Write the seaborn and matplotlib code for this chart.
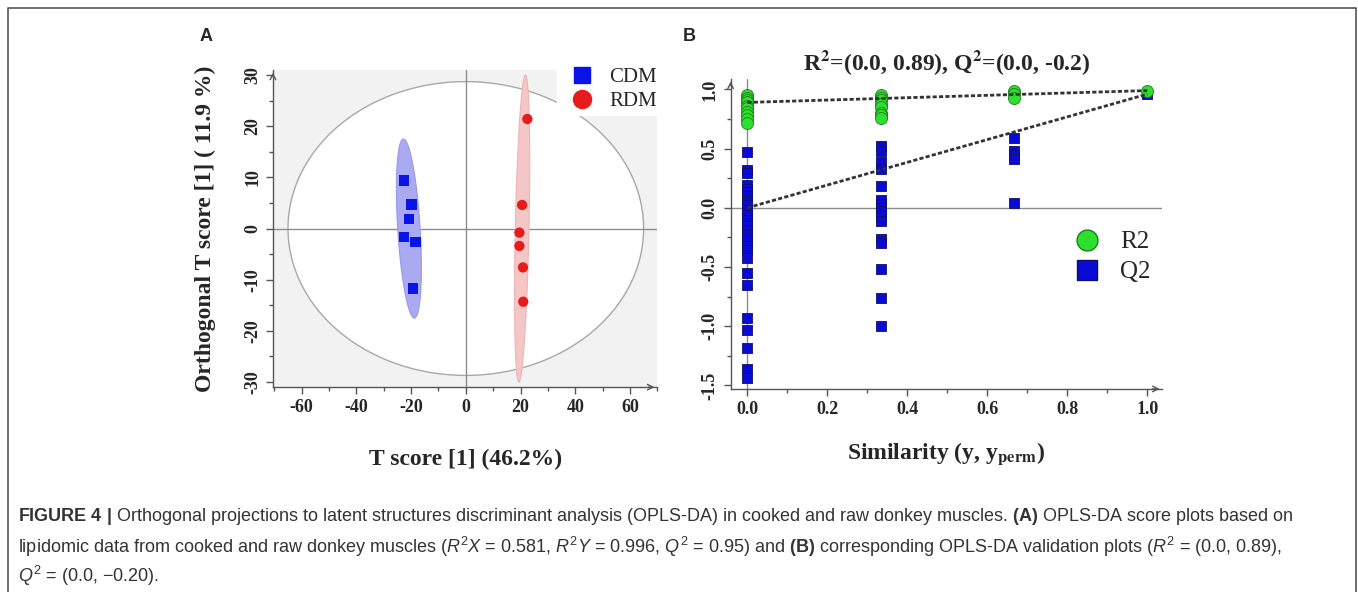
import numpy as np
import pandas as pd
import matplotlib
matplotlib.use("Agg")
import matplotlib.pyplot as plt
import seaborn as sns
from matplotlib.lines import Line2D

# ---- panel A data (score plot) ----
cdm_t = [-22.7, -19.9, -20.7, -22.7, -18.4, -19.4]
cdm_to = [9.4, 4.7, 1.8, -1.6, -2.7, -11.7]
rdm_t = [22.5, 20.6, 19.6, 19.6, 20.9, 21.0]
rdm_to = [21.4, 4.6, -0.8, -3.4, -7.6, -14.3]

# confidence ellipses: centre x, half width, half height, shear (dx/dy)
cdm_ell = (-20.8, 4.1, 17.5, -0.114)
rdm_ell = (20.6, 2.5, 30.0, 0.04)
t2_ell = (65.0, 28.7)

# ---- panel B data (permutation test) ----
r2_x0 = [0.95, 0.93, 0.91, 0.89, 0.86, 0.84, 0.81, 0.78, 0.75, 0.72]
q2_x0 = [0.47, 0.32, 0.29, 0.19, 0.16, 0.13, 0.10, 0.06, 0.02, -0.02, -0.06,
         -0.10, -0.15, -0.19, -0.23, -0.27, -0.32, -0.36, -0.42, -0.55, -0.65,
         -0.93, -1.03, -1.18, -1.36, -1.44]
r2_x1 = [0.95, 0.93, 0.91, 0.88, 0.85, 0.80, 0.78, 0.76]
q2_x1 = [0.52, 0.48, 0.39, 0.33, 0.18, 0.07, 0.03, 0.0, -0.03, -0.07, -0.11,
         -0.26, -0.30, -0.52, -0.76, -1.0]
r2_x2 = [0.99, 0.96, 0.93]
q2_x2 = [0.59, 0.48, 0.45, 0.41, 0.04]
r2_x3 = [0.99]
q2_x3 = [0.96]
sim_levels = [0.0, 1 / 3, 2 / 3, 1.0]
r2_line = (0.89, 0.99)   # intercept, value at similarity 1
q2_line = (0.0, 0.96)

sns.set_style("white")
plt.rcParams["font.family"] = ["Liberation Serif", "DejaVu Serif"]
plt.rcParams["axes.unicode_minus"] = False
# caption maths in sans, axis labels maths in stix
plt.rcParams["mathtext.fontset"] = "custom"
plt.rcParams["mathtext.rm"] = "Liberation Sans"
plt.rcParams["mathtext.it"] = "Liberation Sans:italic"
plt.rcParams["mathtext.bf"] = "Liberation Sans:bold"

fig = plt.figure(figsize=(13.58, 5.92), dpi=100)

# ---------------- panel A ----------------
axA = fig.add_axes([0.201, 0.346, 0.283, 0.536])
axA.set_facecolor("#f2f2f2")
tt = np.linspace(0, 2 * np.pi, 300)
axA.fill(t2_ell[0] * np.cos(tt), t2_ell[1] * np.sin(tt), facecolor="white",
         edgecolor="#a8a8a8", lw=1, zorder=1)
for (cx, w, h, k), fc, ec in [(cdm_ell, "#aaaaf2", "#9a9ae8"), (rdm_ell, "#f5c6c6", "#eeb4b4")]:
    yy = h * np.sin(tt)
    axA.fill(cx + w * np.cos(tt) + k * yy, yy, facecolor=fc, edgecolor=ec, lw=0.8, zorder=2)
axA.axhline(0, color="#8c8c8c", lw=1, zorder=1.5)
axA.axvline(0, color="#8c8c8c", lw=1, zorder=1.5)

dfA = pd.DataFrame({
    "t": cdm_t + rdm_t,
    "to": cdm_to + rdm_to,
    "group": ["CDM"] * len(cdm_t) + ["RDM"] * len(rdm_t),
})
sns.scatterplot(data=dfA, x="t", y="to", hue="group", style="group",
                palette={"CDM": "#0a14e6", "RDM": "#e61c1c"},
                markers={"CDM": "s", "RDM": "o"}, s=55, linewidth=0,
                ax=axA, zorder=3, legend=False)
axA.set_xlim(-70.5, 70)
axA.set_ylim(-31, 31)
axA.set_xticks(np.arange(-60, 61, 20))
axA.set_xticks(np.arange(-70, 71, 10), minor=True)
axA.set_yticks(np.arange(-30, 31, 10))
axA.set_yticks(np.arange(-30, 31, 5), minor=True)
axA.set_xlabel("T score [1] (46.2%)", fontsize=17, fontweight="bold", labelpad=24)
axA.set_ylabel("Orthogonal T score [1] ( 11.9 %)", fontsize=17, fontweight="bold", labelpad=20)
hA = [Line2D([], [], marker="s", ls="", color="#0a14e6", ms=11),
      Line2D([], [], marker="o", ls="", color="#e61c1c", ms=13)]
axA.legend(hA, ["CDM", "RDM"], loc="upper right", bbox_to_anchor=(1.01, 1.02), fontsize=15,
           frameon=True, facecolor="white", edgecolor="white", framealpha=1,
           handletextpad=0.3, borderpad=0.2, labelspacing=0.2, borderaxespad=0)

# ---------------- panel B ----------------
axB = fig.add_axes([0.538, 0.343, 0.318, 0.524])
groups = [r2_x0, r2_x1, r2_x2, r2_x3]
qgroups = [q2_x0, q2_x1, q2_x2, q2_x3]
rows = []
for lvl, rv, qv in zip(sim_levels, groups, qgroups):
    rows += [(lvl, v, "R2") for v in rv]
    rows += [(lvl, v, "Q2") for v in qv]
dfB = pd.DataFrame(rows, columns=["sim", "val", "stat"])
axB.axhline(0, color="#8c8c8c", lw=1, zorder=1)
axB.axvline(0, color="#8c8c8c", lw=1, zorder=1)
sns.scatterplot(data=dfB[dfB.stat == "Q2"], x="sim", y="val", marker="s",
                color="#0a0ad6", edgecolor="#101060", linewidth=0.6, s=45, ax=axB, zorder=3)
sns.scatterplot(data=dfB[dfB.stat == "R2"], x="sim", y="val", marker="o",
                color="#2ee02e", edgecolor="#1e7a1e", linewidth=0.6, s=75, ax=axB, zorder=4)
for y0, y1 in [r2_line, q2_line]:
    sns.lineplot(x=[0, 1], y=[y0, y1], color="#333333", lw=2, ls=(0, (1.5, 0.8)), ax=axB, zorder=5)
axB.set_xlim(-0.042, 1.038)
axB.set_ylim(-1.53, 1.09)
axB.set_xticks(np.arange(0, 1.01, 0.2))
axB.set_xticks(np.arange(0, 1.01, 0.1), minor=True)
axB.set_yticks(np.arange(-1.5, 1.01, 0.5))
axB.set_yticks(np.arange(-1.5, 1.01, 0.25), minor=True)
axB.set_xlabel(r"Similarity (y, y$_{\mathbf{perm}}$)", fontsize=17, fontweight="bold",
               labelpad=16, math_fontfamily="stix")
axB.set_ylabel("")
axB.set_title(r"R$^{\mathbf{2}}$=(0.0, 0.89), Q$^{\mathbf{2}}$=(0.0, -0.2)", fontsize=17,
              fontweight="bold", pad=6, math_fontfamily="stix")
hB = [Line2D([], [], marker="o", ls="", color="#2ee02e", mec="#1e7a1e", ms=15),
      Line2D([], [], marker="s", ls="", color="#0a0ad6", mec="#101060", ms=14)]
axB.legend(hB, ["R2", "Q2"], loc="center", bbox_to_anchor=(0.87, 0.425), fontsize=18,
           frameon=False, handletextpad=0.3, labelspacing=0.3)

# shared axis styling: only left/bottom spines with arrows, bold serif ticks
for ax in (axA, axB):
    for s in ("top", "right"):
        ax.spines[s].set_visible(False)
    for s in ("left", "bottom"):
        ax.spines[s].set_color("#555555")
        ax.spines[s].set_linewidth(1)
    ax.tick_params(which="both", direction="out", color="#555555", width=1,
                   bottom=True, left=True)
    ax.tick_params(which="major", length=5, labelsize=13)
    ax.tick_params(which="minor", length=3)
    for lab in ax.get_xticklabels() + ax.get_yticklabels():
        lab.set_fontweight("bold")
    for lab in ax.get_yticklabels():
        lab.set_rotation(90)
        lab.set_va("center")
    ax.annotate("", xy=(1.0, 0), xytext=(0.97, 0), xycoords="axes fraction",
                arrowprops=dict(arrowstyle="->", color="#555555", lw=1))
    ax.annotate("", xy=(0, 1.0), xytext=(0, 0.97), xycoords="axes fraction",
                arrowprops=dict(arrowstyle="->", color="#555555", lw=1))
    ax.grid(False)

sans = ["Liberation Sans", "DejaVu Sans"]
# panel letters
fig.text(0.147, 0.939, "A", fontsize=13, fontweight="bold", family=sans, va="center")
fig.text(0.503, 0.939, "B", fontsize=13, fontweight="bold", family=sans, va="center")

# frame lines around the figure panel
fig.add_artist(Line2D([0.0059, 0.0059, 0.9985, 0.9985], [0.0, 0.9865, 0.9865, 0.0],
                      transform=fig.transFigure, color="#555555", lw=1.2))

# caption
cap_kw = dict(fontsize=13, family=sans, color="#333333", va="center", math_fontfamily="custom")
fig.text(0.0133, 0.127,
         r"$\mathbf{FIGURE\ 4\ |}$ Orthogonal projections to latent structures discriminant analysis (OPLS-DA) "
         r"in cooked and raw donkey muscles. $\mathbf{(A)}$ OPLS-DA score plots based on", **cap_kw)
fig.text(0.0133, 0.076,
         r"lipidomic data from cooked and raw donkey muscles ($R^2X$ = 0.581, $R^2Y$ = 0.996, $Q^2$ = 0.95) "
         r"and $\mathbf{(B)}$ corresponding OPLS-DA validation plots ($R^2$ = (0.0, 0.89),", **cap_kw)
fig.text(0.0133, 0.027, "$Q^2$ = (0.0, \u22120.20).", **cap_kw)

fig.savefig("out.png", dpi=100)
